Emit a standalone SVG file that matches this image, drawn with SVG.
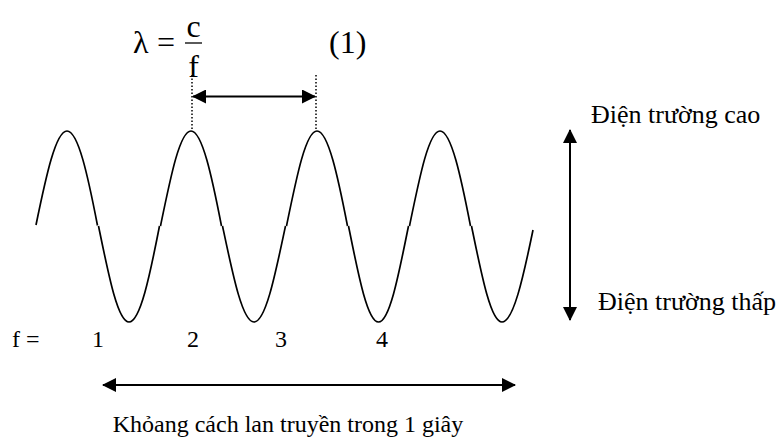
<svg xmlns="http://www.w3.org/2000/svg" width="778" height="443" viewBox="0 0 778 443">
<style>
text{font-family:"Liberation Serif","Times New Roman",serif;fill:#000}
.w{fill:none;stroke:#000;stroke-width:1.7}
.a{fill:none;stroke:#000;stroke-width:2}
.d{fill:none;stroke:#000;stroke-width:1.5;stroke-dasharray:1.5 2}
</style>
<defs>
<marker id="ah" viewBox="0 0 14 14" refX="13" refY="7" markerWidth="14" markerHeight="14" markerUnits="userSpaceOnUse" orient="auto-start-reverse">
<path d="M0,0 L14,7 L0,14 Z" fill="#000"/>
</marker>
</defs>
<g id="formula">
<text x="133" y="53" font-size="32">λ</text>
<text x="157" y="53" font-size="32">=</text>
<text x="193.5" y="37" font-size="32" text-anchor="middle">c</text>
<line x1="185" y1="43" x2="202" y2="43" stroke="#000" stroke-width="1.3"/>
<text x="193.5" y="77" font-size="32" text-anchor="middle">f</text>
<text x="329" y="53" font-size="32">(1)</text>
</g>
<g id="wave">
<path class="w" d="M36,225 C46.1,175.8 55.8,131 67,131 C78.2,131 87.9,175.8 97.5,225.5"/>
<path class="w" d="M98.5,226 C108.6,275.2 117.8,322 129,322 C140.2,322 149.9,275.2 159.5,226"/>
<path class="w" d="M160.5,226 C170.6,176.8 179.8,131 191,131 C202.2,131 211.9,176.8 221.5,226"/>
<path class="w" d="M222.5,226 C232.9,275.2 242.4,322 254,322 C265.6,322 275.1,275.2 285.5,226"/>
<path class="w" d="M286.5,226 C296.6,176.8 305.8,131 317,131 C328.2,131 337.9,176.8 347.5,226"/>
<path class="w" d="M348.5,226 C358.4,275.2 367.5,322 378.5,322 C389.5,322 398.6,275.2 408.5,226"/>
<path class="w" d="M409.5,226 C419.6,176.8 428.8,131 440,131 C451.2,131 460.9,176.8 470.5,226"/>
<path class="w" d="M471.5,226 C481.6,275.2 490.8,322 502,322 C513.2,322 522.9,279 533,230"/>
</g>
<g id="connectors">
<line class="d" x1="192" y1="75" x2="192" y2="130"/>
<line class="d" x1="316" y1="75" x2="316" y2="130"/>
<line class="a" x1="193" y1="96.5" x2="315" y2="96.5" marker-start="url(#ah)" marker-end="url(#ah)"/>
<line class="a" x1="570" y1="130" x2="570" y2="320" marker-start="url(#ah)" marker-end="url(#ah)"/>
<line class="a" x1="103" y1="385" x2="515" y2="385" marker-start="url(#ah)" marker-end="url(#ah)"/>
</g>
<g id="label-high"><text x="591" y="123" font-size="26">Điện trường cao</text></g>
<g id="label-low"><text x="598" y="310" font-size="26">Điện trường thấp</text></g>
<g id="f-row">
<text x="12" y="347" font-size="24">f =</text>
<text x="98" y="347" font-size="24" text-anchor="middle">1</text>
<text x="193" y="347" font-size="24" text-anchor="middle">2</text>
<text x="281" y="347" font-size="24" text-anchor="middle">3</text>
<text x="382" y="347" font-size="24" text-anchor="middle">4</text>
</g>
<g id="label-distance"><text x="288" y="432" font-size="24" text-anchor="middle">Khỏang cách lan truyền trong 1 giây</text></g>
</svg>
